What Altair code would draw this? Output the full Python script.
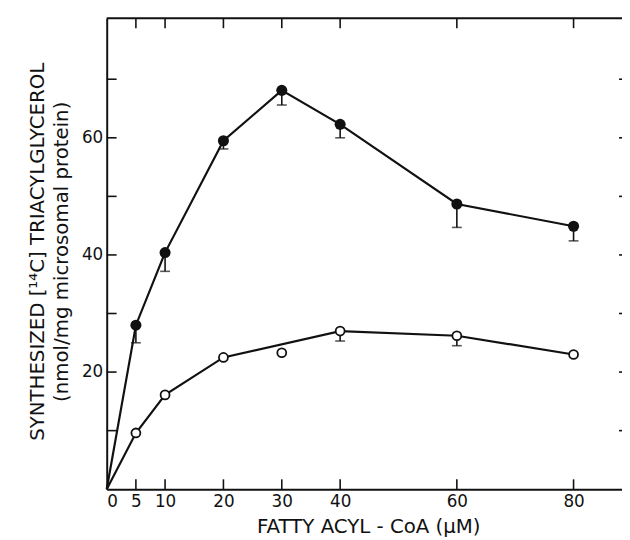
import altair as alt
import pandas as pd

# ---- data ----
conc = [5, 10, 20, 30, 40, 60, 80]                      # fatty acyl-CoA (uM)
filled_vals = [28.0, 40.4, 59.5, 68.1, 62.3, 48.7, 44.9]  # filled circles
filled_err = [3.0, 3.2, 1.4, 2.5, 2.3, 4.0, 2.5]
open_vals = [9.6, 16.1, 22.5, 23.3, 27.0, 26.2, 23.0]     # open circles
open_err = [0, 0, 0, 0, 1.7, 1.7, 0]
open_on_curve = [True, True, True, False, True, True, True]
origin_x, origin_y = 0, 0

x_tick_labels = [0, 5, 10, 20, 30, 40, 60, 80]
y_tick_labels = [20, 40, 60]
y_ticks = [10, 20, 30, 40, 50, 60, 70]
x_domain = [0, 88.3]
y_domain = [0, 80.4]

x_title = "FATTY ACYL - CoA (μM)"
y_title = ["SYNTHESIZED [¹⁴C] TRIACYLGLYCEROL", "(nmol/mg microsomal protein)"]

W, H = 522, 477
INK = "#111111"
FONT = "DejaVu Sans"

# ---- tables ----
pts = pd.DataFrame(
    [dict(series="filled", x=c, y=v, err=e, lo=v - e) for c, v, e in zip(conc, filled_vals, filled_err)]
    + [dict(series="open", x=c, y=v, err=e, lo=v - e) for c, v, e in zip(conc, open_vals, open_err)]
)
errs = pts[pts["err"] > 0]

line_filled = pd.DataFrame({"x": [origin_x] + conc, "y": [origin_y] + filled_vals})
line_open = pd.DataFrame({
    "x": [origin_x] + [c for c, k in zip(conc, open_on_curve) if k],
    "y": [origin_y] + [v for v, k in zip(open_vals, open_on_curve) if k],
})
xt = pd.DataFrame({"x": x_tick_labels[1:]})
yt = pd.DataFrame({"y": y_ticks})
frame_top = pd.DataFrame({"x": [x_domain[0]], "x2": [x_domain[1]]})

xaxis = alt.Axis(
    values=x_tick_labels, ticks=False, tickSize=0, grid=False, domainColor=INK, domainWidth=2,
    labelFontSize=17, labelPadding=5, labelColor=INK, labelFont=FONT,
    title=x_title, titleFontSize=20, titleFontWeight="normal", titleFont=FONT, titleColor=INK,
    titleX=265, titleY=44, titleBaseline="alphabetic", titleAlign="center",
)
yaxis = alt.Axis(
    values=y_tick_labels, ticks=False, tickSize=0, grid=False, domainColor=INK, domainWidth=2,
    labelFontSize=17, labelPadding=4, labelColor=INK, labelFont=FONT,
    title=y_title, titleFontSize=20, titleFontWeight="normal", titleFont=FONT, titleColor=INK,
    titleLineHeight=25, titleX=-70.5, titleY=236, titleBaseline="middle", titleAlign="center",
    titleAngle=270,
)
xenc = alt.X("x:Q", scale=alt.Scale(domain=x_domain, nice=False, zero=False), axis=xaxis)
yenc = alt.Y("y:Q", scale=alt.Scale(domain=y_domain, nice=False, zero=False), axis=yaxis)

lf = alt.Chart(line_filled).mark_line(color=INK, strokeWidth=2.2).encode(x=xenc, y=yenc)
lo = alt.Chart(line_open).mark_line(color=INK, strokeWidth=2.2).encode(x=xenc, y=yenc)
eb = alt.Chart(errs).mark_rule(color=INK, strokeWidth=1.6).encode(x=xenc, y=yenc, y2="lo:Q")
caps = alt.Chart(errs).mark_tick(color=INK, orient="horizontal", size=10, thickness=1.6).encode(
    x=xenc, y=alt.Y("lo:Q", scale=alt.Scale(domain=y_domain, nice=False, zero=False), axis=yaxis)
)
pf = alt.Chart(pts[pts["series"] == "filled"]).mark_point(
    shape="circle", filled=True, color=INK, size=125, opacity=1
).encode(x=xenc, y=yenc)
po = alt.Chart(pts[pts["series"] == "open"]).mark_point(
    shape="circle", filled=True, fill="white", stroke=INK, strokeWidth=1.8, size=82, opacity=1
).encode(x=xenc, y=yenc)

tb = alt.Chart(xt).mark_rule(color=INK, strokeWidth=1.6).encode(x=xenc, y=alt.value(H), y2=alt.value(H - 10))
tt = alt.Chart(xt).mark_rule(color=INK, strokeWidth=1.6).encode(x=xenc, y=alt.value(0), y2=alt.value(10))
tl = alt.Chart(yt).mark_rule(color=INK, strokeWidth=1.6).encode(y=yenc, x=alt.value(0), x2=alt.value(10))
tr = alt.Chart(yt).mark_rule(color=INK, strokeWidth=1.6).encode(y=yenc, x=alt.value(W - 3), x2=alt.value(W))
top = alt.Chart(frame_top).mark_rule(color=INK, strokeWidth=2).encode(x=xenc, x2="x2:Q", y=alt.value(0))

chart = (
    alt.layer(top, tb, tt, tl, tr, lf, lo, eb, caps, pf, po)
    .properties(
        width=W, height=H,
        padding={"left": 100, "top": 7, "right": 0, "bottom": 48},
        autosize=alt.AutoSizeParams(type="none"),
        background="white",
    )
    .configure_view(stroke=None)
)

chart.save("out.html", embed_options={"renderer": "svg", "actions": False})
